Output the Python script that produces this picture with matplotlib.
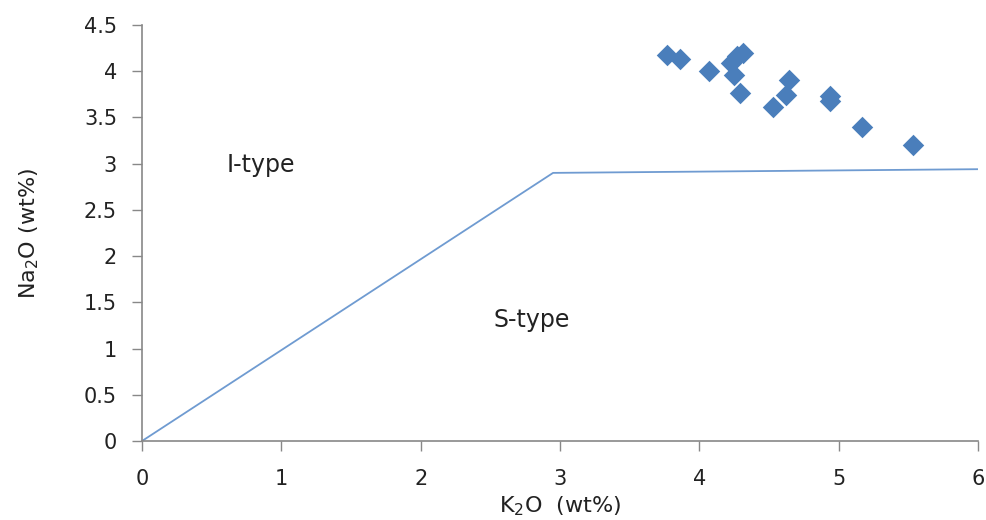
import matplotlib.pyplot as plt

# sample data (K2O, Na2O in wt%)
k2o = [3.77, 3.86, 4.07, 4.23, 4.27, 4.31, 4.25, 4.29, 4.64, 4.62, 4.53, 4.94, 4.94, 5.17, 5.53]
na2o = [4.18, 4.13, 4.00, 4.09, 4.16, 4.20, 3.96, 3.76, 3.90, 3.74, 3.61, 3.73, 3.68, 3.40, 3.20]

# I-type / S-type boundary line
boundary_x = [0, 2.95, 6]
boundary_y = [0, 2.90, 2.94]

plt.rcParams['font.family'] = ['DejaVu Sans']

fig = plt.figure(figsize=(9.87, 5.2), dpi=100)
ax = fig.add_axes([0.1439, 0.1519, 0.847, 0.8001])

ax.plot(boundary_x, boundary_y, color='#6f9bd1', linewidth=1.3)
ax.scatter(k2o, na2o, marker='D', s=120, color='#4a7ebb', zorder=3, linewidths=0)

ax.text(0.85, 2.99, 'I-type', fontsize=17, ha='center', va='center', color='#222222')
ax.text(2.80, 1.31, 'S-type', fontsize=17, ha='center', va='center', color='#222222')

ax.set_xlim(0, 6)
ax.set_ylim(0, 4.5)
ax.set_xticks(range(0, 7))
ax.set_yticks([0, 0.5, 1, 1.5, 2, 2.5, 3, 3.5, 4, 4.5])
ax.set_yticklabels(['0', '0.5', '1', '1.5', '2', '2.5', '3', '3.5', '4', '4.5'])

for side in ['top', 'right']:
    ax.spines[side].set_visible(False)
for side in ['left', 'bottom']:
    ax.spines[side].set_color('#888888')
    ax.spines[side].set_linewidth(1.2)

ax.tick_params(axis='both', colors='#888888', labelcolor='#222222', labelsize=15, length=7, width=1)
ax.tick_params(axis='y', pad=11)
ax.tick_params(axis='x', pad=13)

ax.set_xlabel('K$_2$O  (wt%)', fontsize=16, labelpad=4, color='#222222')
ax.set_ylabel('Na$_2$O (wt%)', fontsize=16, labelpad=31, color='#222222')

fig.savefig('out.png', dpi=100)
